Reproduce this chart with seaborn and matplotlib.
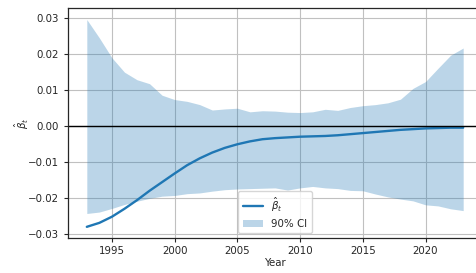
import numpy as np
import pandas as pd
import matplotlib
matplotlib.use("Agg")
import matplotlib.pyplot as plt
import seaborn as sns

years = list(range(1993, 2024))

beta = [-0.0279, -0.0268, -0.0251, -0.0229, -0.0205, -0.0179, -0.0155, -0.0131,
        -0.0108, -0.0089, -0.0073, -0.0060, -0.0050, -0.0042, -0.0036, -0.0033,
        -0.0031, -0.0029, -0.0028, -0.0027, -0.0025, -0.0022, -0.0019, -0.0016,
        -0.0013, -0.0010, -0.0008, -0.0006, -0.0005, -0.0004, -0.0004]

ci_upper = [0.0296, 0.0245, 0.0190, 0.0150, 0.0129, 0.0118, 0.0086, 0.0074,
            0.0069, 0.0060, 0.0045, 0.0048, 0.0050, 0.0040, 0.0043, 0.0042,
            0.0039, 0.0038, 0.0040, 0.0047, 0.0044, 0.0052, 0.0057, 0.0060,
            0.0065, 0.0075, 0.0105, 0.0124, 0.0161, 0.0197, 0.0217]

ci_lower = [-0.0242, -0.0238, -0.0228, -0.0217, -0.0208, -0.0200, -0.0194, -0.0192,
            -0.0187, -0.0185, -0.0180, -0.0176, -0.0174, -0.0173, -0.0172, -0.0171,
            -0.0177, -0.0171, -0.0167, -0.0171, -0.0173, -0.0178, -0.0179, -0.0188,
            -0.0196, -0.0202, -0.0207, -0.0218, -0.0221, -0.0229, -0.0234]

df = pd.DataFrame({"Year": years, "beta": beta, "lo": ci_lower, "hi": ci_upper})

FS = 7.4
sns.set_style("ticks", {"axes.grid": True, "grid.color": "#c0c0c0"})
plt.rcParams["font.family"] = ["DejaVu Sans"]
plt.rcParams["font.size"] = FS

fig = plt.figure(figsize=(4.76, 2.73), dpi=100)
ax = fig.add_axes([68 / 476, 35 / 273, 414 / 476, 230 / 273])

# point estimate first so it comes first in the legend
sns.lineplot(data=df, x="Year", y="beta", color="tab:blue", linewidth=1.7,
             label=r"$\hat{\beta}_t$", ax=ax)
ax.fill_between(df["Year"], df["lo"], df["hi"], color="tab:blue", alpha=0.3,
                linewidth=0, label="90% CI")
ax.axhline(0, color="black", linewidth=1.0)

ax.set_xlim(1991.5, 2024.5)
ax.set_ylim(-0.031, 0.0328)
ax.set_xticks([1995, 2000, 2005, 2010, 2015, 2020])
ax.set_yticks([-0.03, -0.02, -0.01, 0.0, 0.01, 0.02, 0.03])
ax.set_yticklabels(["\u22120.03", "\u22120.02", "\u22120.01", "0.00", "0.01", "0.02", "0.03"])
ax.tick_params(labelsize=FS, length=3, width=0.8)
ax.tick_params(axis="x", pad=2.5)
ax.grid(True, color="#c0c0c0", linewidth=0.8)
for s in ax.spines.values():
    s.set_color("#262626")
    s.set_linewidth(0.9)

ax.set_xlabel("Year", fontsize=FS, labelpad=2)
ax.set_ylabel(r"$\hat{\beta}_t$", fontsize=FS)
ax.yaxis.set_label_coords(-0.09, 0.5)
ax.legend(loc="lower center", fontsize=FS, frameon=True)

fig.savefig("out.png", dpi=100)
